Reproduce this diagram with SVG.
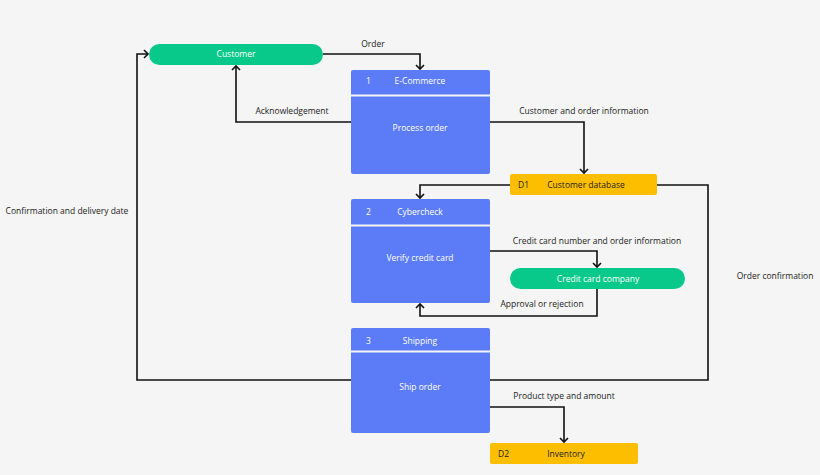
<svg xmlns="http://www.w3.org/2000/svg" width="820" height="475" viewBox="0 0 820 475">
<style>
text{font-family:"Open Sans","Liberation Sans",sans-serif;font-size:8.5px}
.w{fill:#fff}.k{fill:#222}
.proc{fill:#5b7cf6}
.pill{fill:#08c98a}
.store{fill:#fdbe00}
.c{fill:none;stroke:#111;stroke-width:1.6}
</style>
<defs><marker id="a" markerWidth="10" markerHeight="10" refX="5" refY="5" orient="auto" markerUnits="userSpaceOnUse"><path d="M1,1 L5,5 L1,9" fill="none" stroke="#111" stroke-width="1.6"/></marker></defs>
<rect width="820" height="475" fill="#f5f5f5"/>
<g id="connectors">
<path class="c" d="M323,54 H420 V69" marker-end="url(#a)"/>
<path class="c" d="M351,122 H236 V66" marker-end="url(#a)"/>
<path class="c" d="M490,122 H584 V173" marker-end="url(#a)"/>
<path class="c" d="M510,185 H420 V198" marker-end="url(#a)"/>
<path class="c" d="M657,185 H708 V380 H490"/>
<path class="c" d="M490,251 H597 V267" marker-end="url(#a)"/>
<path class="c" d="M597,289 V316 H420 V304" marker-end="url(#a)"/>
<path class="c" d="M351,380 H137 V54 H148" marker-end="url(#a)"/>
<path class="c" d="M490,407 H564 V442" marker-end="url(#a)"/>
<text class="k" x="373" y="47" text-anchor="middle">Order</text>
<text class="k" x="292" y="114" text-anchor="middle">Acknowledgement</text>
<text class="k" x="584" y="114" text-anchor="middle">Customer and order information</text>
<text class="k" x="67" y="214" text-anchor="middle">Confirmation and delivery date</text>
<text class="k" x="597" y="244" text-anchor="middle">Credit card number and order information</text>
<text class="k" x="542" y="307" text-anchor="middle">Approval or rejection</text>
<text class="k" x="775" y="279" text-anchor="middle">Order confirmation</text>
<text class="k" x="564" y="399" text-anchor="middle">Product type and amount</text>
</g>
<g id="customer"><rect class="pill" x="149" y="44" width="174" height="21" rx="10.5"/><text class="w" x="236" y="57" text-anchor="middle">Customer</text></g>
<g id="p1"><rect class="proc" x="351" y="70" width="139" height="104" rx="2"/><line x1="351" y1="95.5" x2="490" y2="95.5" stroke="#f5f5f5" stroke-width="2"/><text class="w" x="366" y="84">1</text><text class="w" x="420" y="84" text-anchor="middle">E-Commerce</text><text class="w" x="420" y="131" text-anchor="middle">Process order</text></g>
<g id="d1"><rect class="store" x="510" y="174" width="147" height="21" rx="2"/><text class="k" x="518" y="188">D1</text><text class="k" x="586" y="188" text-anchor="middle">Customer database</text></g>
<g id="p2"><rect class="proc" x="351" y="199" width="139" height="104" rx="2"/><line x1="351" y1="225.5" x2="490" y2="225.5" stroke="#f5f5f5" stroke-width="2"/><text class="w" x="366" y="215">2</text><text class="w" x="420" y="215" text-anchor="middle">Cybercheck</text><text class="w" x="420" y="261" text-anchor="middle">Verify credit card</text></g>
<g id="ccc"><rect class="pill" x="510" y="268" width="175" height="21" rx="10.5"/><text class="w" x="598" y="282" text-anchor="middle">Credit card company</text></g>
<g id="p3"><rect class="proc" x="351" y="328" width="139" height="105" rx="2"/><line x1="351" y1="351.5" x2="490" y2="351.5" stroke="#f5f5f5" stroke-width="2"/><text class="w" x="366" y="344">3</text><text class="w" x="420" y="344" text-anchor="middle">Shipping</text><text class="w" x="420" y="390" text-anchor="middle">Ship order</text></g>
<g id="d2"><rect class="store" x="490" y="443" width="148" height="21" rx="2"/><text class="k" x="498" y="457">D2</text><text class="k" x="566" y="457" text-anchor="middle">Inventory</text></g>
</svg>
